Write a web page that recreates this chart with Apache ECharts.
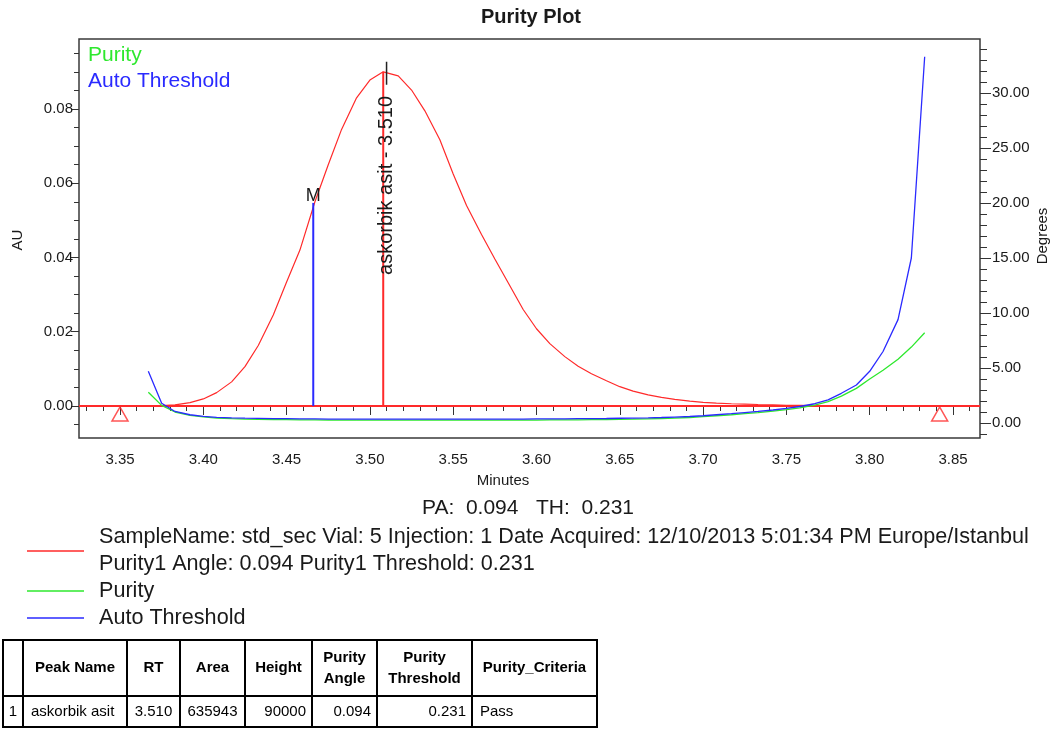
<!DOCTYPE html>
<html><head><meta charset="utf-8">
<script src="https://cdn.jsdelivr.net/npm/echarts@6/dist/echarts.min.js"></script>
<style>html,body{margin:0;padding:0;background:#fff}#c{width:1056px;height:729px}</style>
</head><body><div id="c"></div>
<script>
// ---------------- data ----------------
const times = [3.367,3.375,3.383,3.392,3.400,3.408,3.417,3.425,3.433,3.442,3.450,3.458,3.467,3.475,3.483,3.492,3.500,3.508,3.517,3.525,3.533,3.542,3.550,3.558,3.567,3.575,3.583,3.592,3.600,3.608,3.617,3.625,3.633,3.642,3.650,3.658,3.667,3.675,3.683,3.692,3.700,3.708,3.717,3.725,3.733,3.742,3.750,3.758,3.767,3.775,3.783,3.792,3.800,3.808,3.817,3.825,3.833];
const chromAU = [0.0000,0.0001,0.0003,0.0009,0.0019,0.0036,0.0065,0.0106,0.0163,0.0245,0.0334,0.0420,0.0550,0.0650,0.0745,0.0830,0.0878,0.0900,0.0889,0.0851,0.0795,0.0717,0.0625,0.0540,0.0462,0.0396,0.0332,0.0260,0.0208,0.0168,0.0133,0.0107,0.0087,0.0068,0.0052,0.0040,0.0030,0.0023,0.0018,0.0013,0.0010,0.0008,0.0006,0.0005,0.0004,0.0003,0.0002,0.0002,0.0001,0.0001,0.0001,0.0000,0.0000,0.0000,0.0000,0.0000,0.0000];
const purityDeg = [2.80,1.60,1.00,0.70,0.55,0.45,0.40,0.36,0.33,0.31,0.30,0.29,0.28,0.27,0.27,0.26,0.26,0.26,0.26,0.26,0.26,0.26,0.26,0.26,0.26,0.26,0.26,0.27,0.27,0.28,0.28,0.29,0.30,0.31,0.33,0.35,0.38,0.41,0.45,0.50,0.58,0.66,0.75,0.85,0.95,1.07,1.21,1.38,1.62,1.95,2.45,3.15,4.00,4.80,5.80,6.90,8.20];
const thresholdDeg = [4.70,1.80,1.05,0.75,0.60,0.52,0.47,0.44,0.42,0.40,0.39,0.38,0.37,0.36,0.36,0.35,0.35,0.35,0.35,0.35,0.35,0.35,0.35,0.35,0.35,0.35,0.36,0.36,0.37,0.37,0.38,0.39,0.40,0.41,0.43,0.45,0.47,0.50,0.54,0.59,0.66,0.75,0.85,0.95,1.05,1.18,1.32,1.50,1.75,2.10,2.70,3.45,4.70,6.50,9.40,15.00,33.30];

const xTickLabels = [3.35,3.40,3.45,3.50,3.55,3.60,3.65,3.70,3.75,3.80,3.85];
const auTickLabels = [0.00,0.02,0.04,0.06,0.08];
const degTickLabels = [0,5,10,15,20,25,30];

const peakName = 'askorbik asit';
const peakRT = 3.510;
const apexTime = 3.508, apexAU = 0.0900;
const rtTickAU = [0.0865, 0.0927];
const labelTopAU = 0.0835;
const mTime = 3.466, mAU = 0.0547;
const peakStart = 3.350, peakEnd = 3.842;

const paText = 'PA:  0.094   TH:  0.231';
const legendSample = 'SampleName: std_sec Vial: 5 Injection: 1 Date Acquired: 12/10/2013 5:01:34 PM Europe/Istanbul';
const legendPurity1 = 'Purity1 Angle: 0.094 Purity1 Threshold: 0.231';

const tableHeaders = ['', 'Peak Name', 'RT', 'Area', 'Height', 'Purity\nAngle', 'Purity\nThreshold', 'Purity_Criteria'];
const tableRow = ['1', 'askorbik asit', '3.510', '635943', '90000', '0.094', '0.231', 'Pass'];

// ---------------- layout ----------------
const FONT = '"Liberation Sans", Arial, sans-serif';
const RED = '#ff2a2a', GREEN = '#2ee82e', BLUE = '#2a2aff', INK = '#1a1a1a';
const X_MIN = 3.32539, X_MAX = 3.86621;
const AU_MIN = -0.00862, AU_MAX = 0.09885;
const DEG_MIN = -1.364, DEG_MAX = 34.91;

function steps(a, n, d, dec) { const r = []; for (let i = 0; i <= n; i++) r.push(+(a + i * d).toFixed(dec)); return r; }
const xMinor = steps(3.33, 53, 0.01, 2);
const auMinor = steps(-0.005, 20, 0.005, 3);
const degMinor = steps(-1, 35, 1, 0);

const chart = echarts.init(document.getElementById('c'), null, {width: 1056, height: 729});

function valAxis(min, max, pos, extra) {
  return Object.assign({
    type: 'value', min: min, max: max, position: pos, gridIndex: 0,
    axisLine: {show: false}, splitLine: {show: false}, splitArea: {show: false}
  }, extra);
}
const tickStyle = {color: '#333', width: 1};
const labelStyle = {fontFamily: FONT, fontSize: 15, color: INK};

const option = {
  animation: false,
  backgroundColor: '#fff',
  grid: {left: 79, top: 39, width: 901, height: 399, show: true, borderColor: '#3a3a3a', borderWidth: 1.5, backgroundColor: '#fff'},
  xAxis: [
    valAxis(X_MIN, X_MAX, 'bottom', {offset: 3, axisTick: {show: true, length: 5, customValues: xMinor, lineStyle: tickStyle}, axisLabel: {show: false}}),
    valAxis(X_MIN, X_MAX, 'bottom', {offset: 3, axisTick: {show: true, length: 9, customValues: xTickLabels, lineStyle: tickStyle},
      axisLabel: Object.assign({show: true, customValues: xTickLabels, margin: 11, formatter: v => v.toFixed(2)}, labelStyle)})
  ],
  yAxis: [
    valAxis(AU_MIN, AU_MAX, 'left', {axisTick: {show: true, length: 5, customValues: auMinor, lineStyle: tickStyle}, axisLabel: {show: false}}),
    valAxis(AU_MIN, AU_MAX, 'left', {axisTick: {show: true, length: 8, customValues: auTickLabels, lineStyle: tickStyle},
      axisLabel: Object.assign({show: true, customValues: auTickLabels, margin: 6, formatter: v => v.toFixed(2)}, labelStyle)}),
    valAxis(DEG_MIN, DEG_MAX, 'right', {axisTick: {show: true, length: 7, customValues: degMinor, lineStyle: tickStyle}, axisLabel: {show: false}}),
    valAxis(DEG_MIN, DEG_MAX, 'right', {axisTick: {show: true, length: 11, customValues: degTickLabels, lineStyle: tickStyle},
      axisLabel: Object.assign({show: true, customValues: degTickLabels, margin: 12, formatter: v => v.toFixed(2)}, labelStyle)})
  ],
  series: [
    {name: 'Baseline', type: 'line', xAxisIndex: 0, yAxisIndex: 0, data: [[X_MIN, 0], [X_MAX, 0]], symbol: 'none',
      lineStyle: {color: RED, width: 2}, z: 2},
    {name: 'Chromatogram', type: 'line', xAxisIndex: 0, yAxisIndex: 0, data: times.map((t, i) => [t, chromAU[i]]), symbol: 'none',
      lineStyle: {color: RED, width: 1.2}, z: 3},
    {name: 'Purity', type: 'line', xAxisIndex: 0, yAxisIndex: 2, data: times.map((t, i) => [t, purityDeg[i]]), symbol: 'none',
      lineStyle: {color: GREEN, width: 1.3}, z: 4},
    {name: 'Auto Threshold', type: 'line', xAxisIndex: 0, yAxisIndex: 2, data: times.map((t, i) => [t, thresholdDeg[i]]), symbol: 'none',
      lineStyle: {color: BLUE, width: 1.3}, z: 5},
    {name: 'M', type: 'line', xAxisIndex: 0, yAxisIndex: 0, data: [[mTime, 0], [mTime, mAU]], symbol: 'none',
      lineStyle: {color: BLUE, width: 2}, z: 6},
    {name: 'Apex', type: 'line', xAxisIndex: 0, yAxisIndex: 0, data: [[apexTime, 0], [apexTime, apexAU]], symbol: 'none',
      lineStyle: {color: RED, width: 2}, z: 6},
    {name: 'RT', type: 'line', xAxisIndex: 0, yAxisIndex: 0, data: [[peakRT, rtTickAU[0]], [peakRT, rtTickAU[1]]], symbol: 'none',
      lineStyle: {color: '#222', width: 1.5}, z: 7},
    {name: 'Peak limits', type: 'scatter', xAxisIndex: 0, yAxisIndex: 0, data: [[peakStart, 0], [peakEnd, 0]],
      symbol: 'triangle', symbolSize: [16, 14], symbolOffset: [0, 8],
      itemStyle: {color: 'rgba(255,255,255,0)', borderColor: RED, borderWidth: 1.5}, z: 8}
  ]
};
chart.setOption(option);

// ---------------- text & table graphics ----------------
const g = [];
function txt(x, y, text, font, fill, align, vAlign, extra) {
  g.push(Object.assign({type: 'text', x: x, y: y, silent: true, z: 100,
    style: {text: text, font: font, fill: fill || INK, align: align || 'left', verticalAlign: vAlign || 'middle'}}, extra || {}));
}
const f = (sz, bold) => (bold ? 'bold ' : '') + sz + 'px ' + FONT;

txt(531, 17, 'Purity Plot', f(20, true), INK, 'center');
txt(18, 240, 'AU', f(15), INK, 'center', 'middle', {rotation: Math.PI / 2});
txt(1043, 236, 'Degrees', f(15), INK, 'center', 'middle', {rotation: Math.PI / 2});
txt(503, 481, 'Minutes', f(15), INK, 'center');
txt(88, 55, 'Purity', f(21), GREEN, 'left');
txt(88, 81, 'Auto Threshold', f(21), BLUE, 'left');

const pLab = chart.convertToPixel({xAxisIndex: 0, yAxisIndex: 0}, [peakRT, labelTopAU]);
txt(pLab[0], pLab[1], peakName + ' - ' + peakRT.toFixed(3), f(20), INK, 'right', 'middle', {rotation: Math.PI / 2});
const pM = chart.convertToPixel({xAxisIndex: 0, yAxisIndex: 0}, [mTime, mAU]);
txt(pM[0], pM[1] + 2, 'M', f(18), INK, 'center', 'bottom');

txt(528, 508, paText, f(21), INK, 'center');
const legend = [
  {color: RED, y: 551, lines: [[537, legendSample], [564, legendPurity1]]},
  {color: GREEN, y: 591, lines: [[591, 'Purity']]},
  {color: BLUE, y: 618, lines: [[618, 'Auto Threshold']]}
];
legend.forEach(l => {
  g.push({type: 'line', silent: true, shape: {x1: 27, y1: l.y, x2: 84, y2: l.y}, style: {stroke: l.color, lineWidth: 1.5}});
  l.lines.forEach(t => txt(99, t[0], t[1], f(21.6), INK, 'left'));
});

// table
const colEdges = [3, 23, 127, 180, 245, 312, 377, 472, 597];
const rowEdges = [640, 696, 727];
const rowAlign = ['center', 'left', 'center', 'center', 'right', 'right', 'right', 'left'];
g.push({type: 'rect', silent: true, shape: {x: colEdges[0], y: rowEdges[0], width: colEdges[8] - colEdges[0], height: rowEdges[2] - rowEdges[0]},
  style: {fill: 'none', stroke: '#000', lineWidth: 2}});
colEdges.slice(1, -1).forEach(x => g.push({type: 'line', silent: true, shape: {x1: x, y1: rowEdges[0], x2: x, y2: rowEdges[2]}, style: {stroke: '#000', lineWidth: 2}}));
g.push({type: 'line', silent: true, shape: {x1: colEdges[0], y1: rowEdges[1], x2: colEdges[8], y2: rowEdges[1]}, style: {stroke: '#000', lineWidth: 2}});
tableHeaders.forEach((h, i) => {
  const cx = (colEdges[i] + colEdges[i + 1]) / 2;
  g.push({type: 'text', silent: true, x: cx, y: (rowEdges[0] + rowEdges[1]) / 2,
    style: {text: h, font: f(15, true), fill: '#000', align: 'center', verticalAlign: 'middle', lineHeight: 21}});
});
tableRow.forEach((v, i) => {
  const a = rowAlign[i];
  const x = a === 'left' ? colEdges[i] + 8 : a === 'right' ? colEdges[i + 1] - 6 : (colEdges[i] + colEdges[i + 1]) / 2;
  g.push({type: 'text', silent: true, x: x, y: (rowEdges[1] + rowEdges[2]) / 2,
    style: {text: v, font: f(15), fill: '#000', align: a, verticalAlign: 'middle'}});
});

chart.setOption({graphic: {elements: g}});
</script>
</body></html>
